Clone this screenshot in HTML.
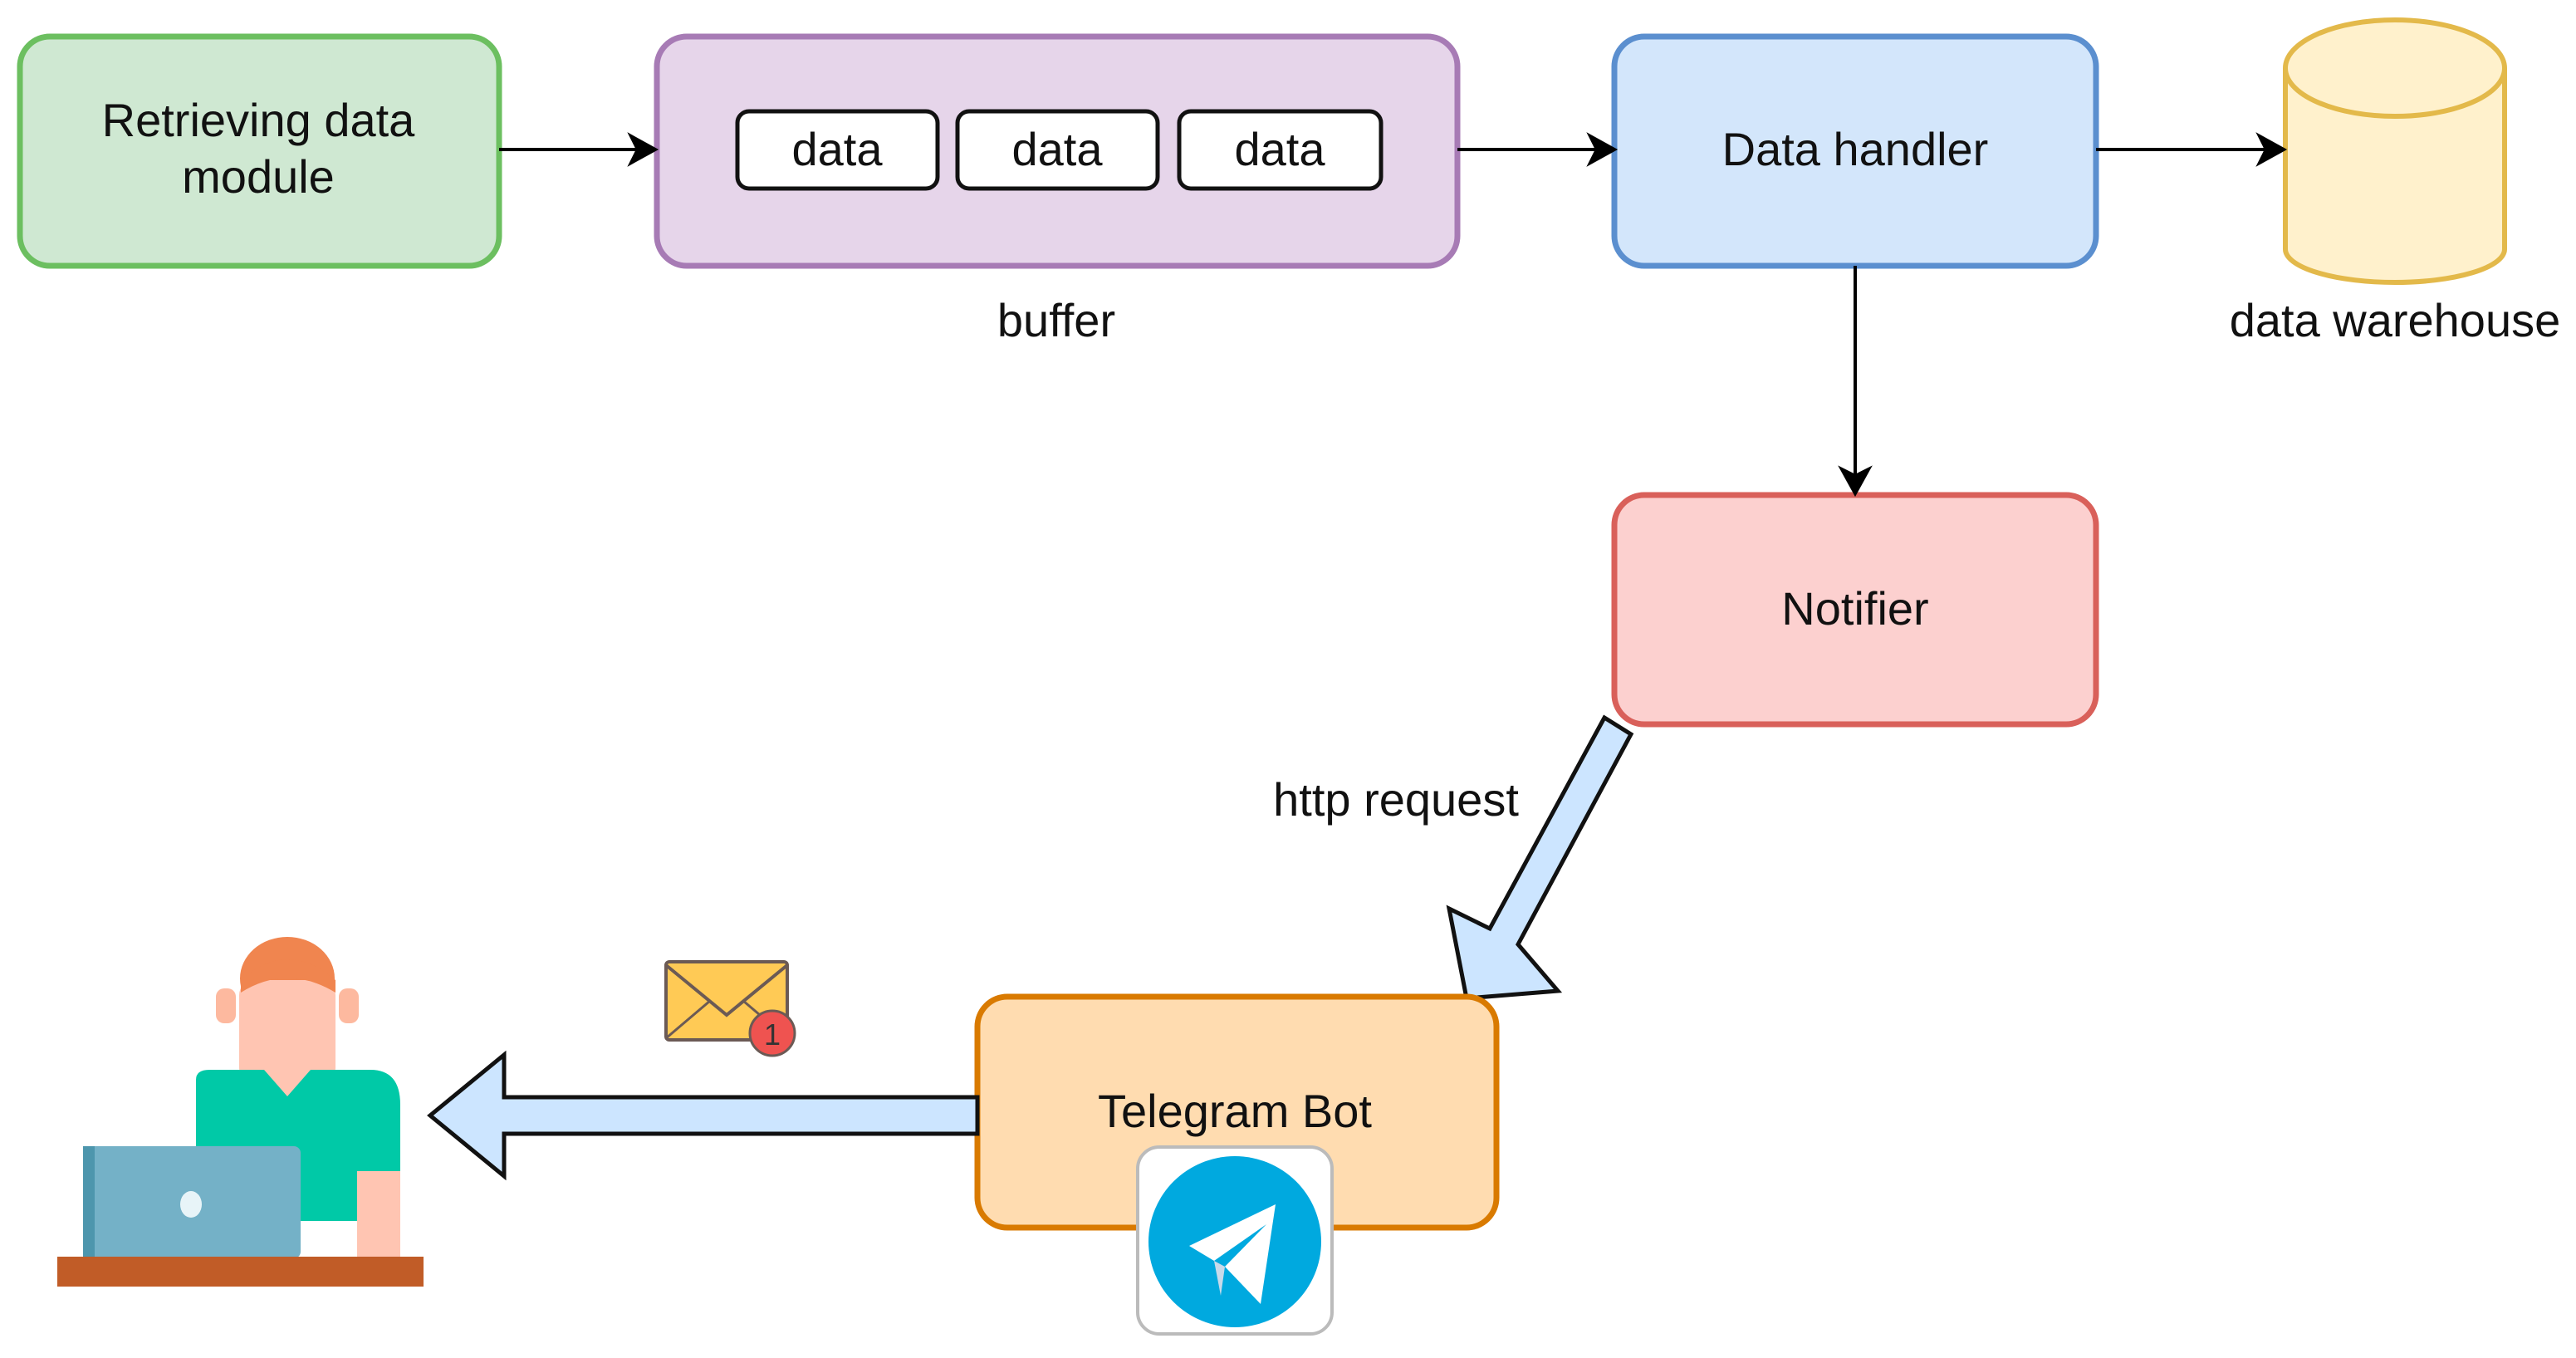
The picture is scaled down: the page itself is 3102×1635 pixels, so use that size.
<!DOCTYPE html>
<html><head><meta charset="utf-8"><style>html,body{margin:0;padding:0;background:#fff}svg{display:block}</style></head>
<body>
<svg width="3102" height="1635" viewBox="0 0 3102 1635" xmlns="http://www.w3.org/2000/svg" font-family="Liberation Sans, Arial, sans-serif">
<!-- green -->
<rect x="24" y="44" width="577" height="276" rx="36" fill="#cfe8d2" stroke="#6cbf60" stroke-width="7"/>
<text x="311" y="164" font-size="56" text-anchor="middle" fill="#111">Retrieving data</text>
<text x="311" y="232" font-size="56" text-anchor="middle" fill="#111">module</text>
<!-- purple -->
<rect x="791" y="44" width="964" height="276" rx="36" fill="#e6d5ea" stroke="#a77bb5" stroke-width="7"/>
<rect x="888" y="134" width="241" height="93" rx="14" fill="#fff" stroke="#111" stroke-width="5"/>
<rect x="1153" y="134" width="241" height="93" rx="14" fill="#fff" stroke="#111" stroke-width="5"/>
<rect x="1420" y="134" width="243" height="93" rx="14" fill="#fff" stroke="#111" stroke-width="5"/>
<text x="1008" y="199" font-size="56" text-anchor="middle" fill="#111">data</text>
<text x="1273" y="199" font-size="56" text-anchor="middle" fill="#111">data</text>
<text x="1541" y="199" font-size="56" text-anchor="middle" fill="#111">data</text>
<text x="1272" y="405" font-size="56" text-anchor="middle" fill="#111">buffer</text>
<!-- blue -->
<rect x="1944" y="44" width="580" height="276" rx="36" fill="#d3e6fb" stroke="#5b8fcf" stroke-width="7"/>
<text x="2234" y="199" font-size="56" text-anchor="middle" fill="#111">Data handler</text>
<!-- cylinder -->
<path d="M2752 82 L2752 300 A132 40 0 0 0 3016 300 L3016 82" fill="#fff1cc" stroke="#e3b94a" stroke-width="6"/>
<ellipse cx="2884" cy="82" rx="132" ry="58" fill="#fff1cc" stroke="#e3b94a" stroke-width="6"/>
<text x="2884" y="405" font-size="56" text-anchor="middle" fill="#111">data warehouse</text>
<!-- notifier -->
<rect x="1944" y="596" width="580" height="276" rx="36" fill="#fcd0cf" stroke="#d9605a" stroke-width="7"/>
<text x="2234" y="752" font-size="56" text-anchor="middle" fill="#111">Notifier</text>
<!-- arrows -->
<g stroke="#000" stroke-width="4" fill="#000">
<line x1="601" y1="180" x2="770" y2="180"/>
<path d="M789 180 L760 164 L768 180 L760 196 Z"/>
<line x1="1755" y1="180" x2="1925" y2="180"/>
<path d="M1944 180 L1915 164 L1923 180 L1915 196 Z"/>
<line x1="2524" y1="180" x2="2730" y2="180"/>
<path d="M2750 180 L2721 164 L2729 180 L2721 196 Z"/>
<line x1="2234" y1="320" x2="2234" y2="575"/>
<path d="M2234 594 L2218 565 L2234 573 L2250 565 Z"/>
</g>
<!-- diagonal flex arrow -->
<polygon points="1932,864 1964,884 1828,1137 1876,1193 1766,1202 1745,1094 1794,1118" fill="#cce5ff" stroke="#111" stroke-width="5" stroke-linejoin="miter"/>
<text x="1681" y="982" font-size="56" text-anchor="middle" fill="#111">http request</text>
<!-- telegram box -->
<rect x="1177" y="1200" width="625" height="278" rx="36" fill="#ffdcb0" stroke="#d97a00" stroke-width="7"/>
<text x="1487" y="1357" font-size="56" text-anchor="middle" fill="#111">Telegram Bot</text>
<rect x="1370" y="1381" width="234" height="225" rx="26" fill="#fff" stroke="#bbb" stroke-width="4"/>
<ellipse cx="1487" cy="1495" rx="104" ry="103" fill="#00a9df"/>
<polygon points="1536,1450 1432,1500 1462,1518 1525,1474 1475,1525 1518,1570" fill="#fff"/>
<polygon points="1462,1518 1475,1525 1470,1560" fill="#c8daea"/>
<!-- left flex arrow -->
<polygon points="1177,1321 607,1321 607,1270 518,1343 607,1416 607,1365 1177,1365" fill="#cce5ff" stroke="#111" stroke-width="5"/>
<!-- envelope -->
<rect x="802" y="1158" width="146" height="94" rx="4" fill="#ffca55" stroke="#6b5a55" stroke-width="4"/>
<polyline points="802,1162 875,1222 948,1162" fill="none" stroke="#6b5a55" stroke-width="4"/>
<line x1="802" y1="1250" x2="855" y2="1205" stroke="#6b5a55" stroke-width="3"/>
<line x1="948" y1="1250" x2="895" y2="1205" stroke="#6b5a55" stroke-width="3"/>
<circle cx="930" cy="1244" r="27" fill="#ef5350" stroke="#6b5a55" stroke-width="3"/>
<text x="930" y="1258" font-size="36" text-anchor="middle" fill="#333">1</text>
<!-- person -->
<ellipse cx="346" cy="1178" rx="57" ry="50" fill="#f0854f"/>
<rect x="260" y="1190" width="24" height="42" rx="10" fill="#fdb99f"/>
<rect x="408" y="1190" width="24" height="42" rx="10" fill="#fdb99f"/>
<rect x="288" y="1180" width="116" height="124" rx="18" fill="#ffc5b2"/>
<path d="M290 1180 Q346 1130 404 1180 L404 1195 Q346 1160 290 1195 Z" fill="#f0854f"/>
<rect x="322" y="1290" width="50" height="30" fill="#ffc5b2"/>
<path d="M236 1300 Q236 1288 252 1288 L446 1288 Q482 1288 482 1330 L482 1410 L440 1410 L440 1470 L236 1470 Z" fill="#00c9a7"/>
<path d="M318 1288 L346 1320 L374 1288 Z" fill="#ffc5b2"/>
<rect x="430" y="1410" width="52" height="105" fill="#ffc5b2"/>
<rect x="100" y="1380" width="262" height="135" rx="8" fill="#74b1c7"/>
<rect x="100" y="1380" width="14" height="135" fill="#4d96ad"/>
<ellipse cx="230" cy="1450" rx="13" ry="16" fill="#e8f4f8"/>
<rect x="69" y="1513" width="441" height="36" fill="#c15c27"/>
</svg>
</body></html>
